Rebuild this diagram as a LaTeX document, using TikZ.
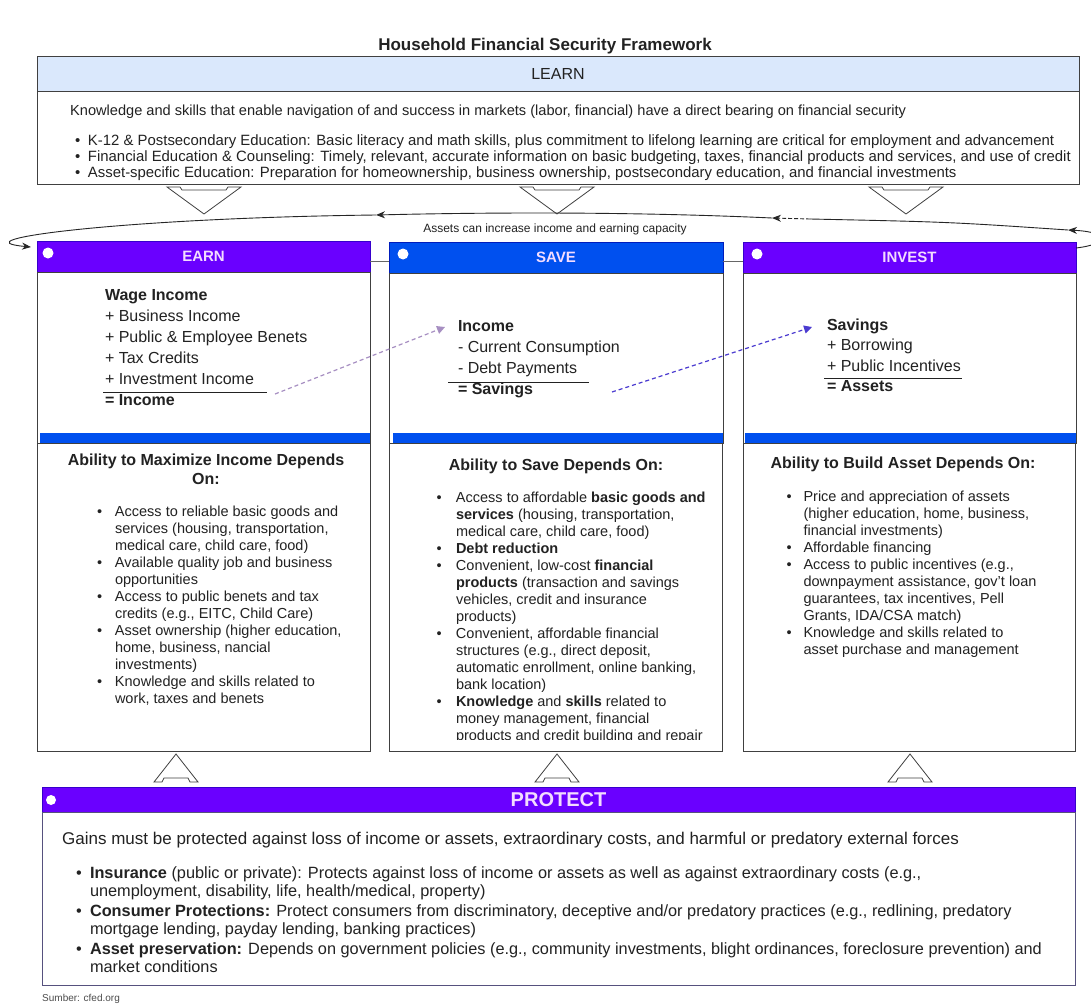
\documentclass[tikz,border=0pt]{standalone}
\usepackage{fontspec}
\setmainfont{Liberation Sans}
\usetikzlibrary{arrows.meta}
\definecolor{purp}{HTML}{6A00FF}
\definecolor{purpd}{HTML}{3700CC}
\definecolor{sblue}{HTML}{0050EF}
\definecolor{sblued}{HTML}{001DBC}
\definecolor{hdrtxt}{HTML}{F3DCFF}
\definecolor{learnfill}{HTML}{DAE8FC}
\definecolor{txt}{HTML}{222222}
\definecolor{dashA}{HTML}{A78FC2}
\definecolor{dashB}{HTML}{4B3BD0}
\definecolor{protb}{HTML}{56517E}
\newcommand{\fs}[2]{\fontsize{#1}{#2}\selectfont}
\newcommand{\bu}[1]{\makebox[#1][l]{\textbullet}}
\newcommand{\darr}[1]{\draw[blockarr] (#1-37,187) -- (#1-24,187) -- (#1-22,190) -- (#1+22,190) -- (#1+24,187) -- (#1+37,187) -- (#1,214) -- cycle;}
\newcommand{\uarr}[1]{\draw[blockarr] (#1,754) -- (#1+22,782) -- (#1+14,782) -- (#1+12,778) -- (#1-12,778) -- (#1-14,782) -- (#1-22,782) -- cycle;}
\begin{document}
\begin{tikzpicture}[x=1pt,y=-1pt,
  box/.style={draw=black!75, line width=0.8pt, fill=white, inner sep=0pt, outer sep=0pt, anchor=north west},
  hdr/.style={draw=#1, line width=0.8pt, inner sep=0pt, outer sep=0pt, anchor=north west, text=hdrtxt, font=\fs{15}{18}\bfseries},
  bar/.style={fill=sblue, draw=none, inner sep=0pt, outer sep=0pt, anchor=north west, minimum height=10pt},
  dot/.style={circle, fill=white, draw=none, minimum size=11pt, inner sep=0pt},
  listnode/.style={anchor=north west, inner sep=0pt, outer sep=0pt, text=txt},
  blockarr/.style={draw=black!75, fill=white, line width=0.8pt, line join=miter},
  loopline/.style={draw=black!85, line width=0.9pt, -{Stealth[length=9pt,width=7pt]}},
  thinline/.style={draw=black!60, line width=0.8pt},
  rule/.style={draw=txt, line width=0.9pt}
]
\useasboundingbox (0,0) rectangle (1091,1006);
\fill[white] (0,0) rectangle (1091,1006);

% title
\node[text=txt, font=\fs{17}{19}\bfseries] (title) at (545,46) {Household Financial Security Framework};

% LEARN
\node[box, fill=learnfill, minimum width=1042pt, minimum height=35pt, font=\fs{16}{19}, text=txt] (learnH) at (37,56) {LEARN};
\node[box, minimum width=1042pt, minimum height=93pt] (learnB) at (37,91) {};
\node[anchor=base west, inner sep=0pt, text=txt, font=\fs{14.6}{16}] (learnI) at (70,116) {Knowledge and skills that enable navigation of and success in markets (labor, financial) have a direct bearing on financial security};
\node[listnode] (learnL) at (75,134.7) {\fs{14.9}{16}\begin{tabular}{@{}l@{}l@{}}
\bu{13pt} & K-12 \& Postsecondary Education: Basic literacy and math skills, plus commitment to lifelong learning are critical for employment and advancement\\
\bu{13pt} & Financial Education \& Counseling: Timely, relevant, accurate information on basic budgeting, taxes, financial products and services, and use of credit\\
\bu{13pt} & Asset-specific Education: Preparation for homeownership, business ownership, postsecondary education, and financial investments
\end{tabular}};

% down block arrows
\darr{204}
\darr{557}
\darr{906}

% EARN column
\node[hdr=purpd, fill=purp, minimum width=333pt, minimum height=31pt] (earnH) at (37,241) {EARN};
\node[dot] (earnD) at (48,253) {};
\node[box, minimum width=333pt, minimum height=171pt] (earnT) at (37,272) {};
\node[bar, minimum width=330pt] (earnBar) at (40,433) {};
\node[box, minimum width=333pt, minimum height=308pt] (earnL) at (37,443) {};

% SAVE column
\node[hdr=sblued, fill=sblue, minimum width=334pt, minimum height=31pt] (saveH) at (389,242) {SAVE};
\node[dot] (saveD) at (403,254) {};
\node[box, minimum width=334pt, minimum height=170pt] (saveT) at (389,273) {};
\node[bar, minimum width=330pt] (saveBar) at (393,433) {};
\node[box, minimum width=333pt, minimum height=308pt] (saveL) at (389,443) {};

% INVEST column
\node[hdr=purpd, fill=purp, minimum width=333pt, minimum height=31pt] (invH) at (743,242) {INVEST};
\node[dot] (invD) at (757,254) {};
\node[box, minimum width=333pt, minimum height=170pt] (invT) at (743,273) {};
\node[bar, minimum width=331pt] (invBar) at (745,433) {};
\node[box, minimum width=332pt, minimum height=308pt] (invL) at (743,443) {};

% connectors between headers
\draw[thinline] ([yshift=-4.5pt]earnH.east) -- ([yshift=-3.5pt]saveH.west);
\draw[thinline] ([yshift=-3.5pt]saveH.east) -- ([yshift=-3.5pt]invH.west);

% loop arrow
\coordinate (cA) at (1076,248);
\coordinate (cB) at (1068,230);
\coordinate (cM) at (810,219);
\coordinate (cC) at (772,218);
\coordinate (cD) at (376,215);
\coordinate (cE) at (31,247);
\draw[loopline] (cA) .. controls (1110,244) and (1110,232) .. (cB);
\draw[loopline, -] (cB) .. controls (950,222) .. (cM);
\draw[loopline, dash pattern=on 4pt off 2pt] (cM) -- (cC);
\draw[loopline] (cC) .. controls (640,212) and (500,212) .. (cD);
\draw[loopline] (cD) .. controls (120,218) and (-45,240) .. (cE);
\node[text=txt, font=\fs{12}{14}] (assetsLbl) at (555,229) {Assets can increase income and earning capacity};

% formulas
\node[listnode] (earnF) at (105,285.5) {\fs{16}{21}\begin{tabular}{@{}l@{}}
\textbf{Wage Income}\\ + Business Income\\ + Public \& Employee Benets\\ + Tax Credits\\ + Investment Income\\ \textbf{= Income}
\end{tabular}};
\draw[rule] (103,392.5) -- (267,392.5);
\node[listnode] (saveF) at (458,316.9) {\fs{16}{21}\begin{tabular}{@{}l@{}}
\textbf{Income}\\ - Current Consumption\\ - Debt Payments\\ \textbf{= Savings}
\end{tabular}};
\draw[rule] (448,382) -- (589,382);
\node[listnode] (invF) at (827,315.9) {\fs{16}{20.5}\begin{tabular}{@{}l@{}}
\textbf{Savings}\\ + Borrowing\\ + Public Incentives\\ \textbf{= Assets}
\end{tabular}};
\draw[rule] (824,378) -- (962,378);

% dashed flow arrows
\coordinate (fa1) at (275,394);
\coordinate (fa2) at (445,327);
\coordinate (fb1) at (612,392);
\coordinate (fb2) at (812,327);
\draw[dashA, line width=1.2pt, dash pattern=on 4pt off 3pt, -{Triangle[length=8pt,width=8pt]}] (fa1) -- (fa2);
\draw[dashB, line width=1.2pt, dash pattern=on 4pt off 3pt, -{Triangle[length=8pt,width=8pt]}] (fb1) -- (fb2);

% lower headings
\node[listnode, anchor=north] (earnHd) at (206,452.3) {\fs{16}{19}\bfseries\begin{tabular}{@{}c@{}}Ability to Maximize Income Depends\\ On:\end{tabular}};
\node[listnode, anchor=north] (saveHd) at (556,457.3) {\fs{16}{19}\bfseries\begin{tabular}{@{}c@{}}Ability to Save Depends On:\end{tabular}};
\node[listnode, anchor=north] (invHd) at (903,455.3) {\fs{16}{19}\bfseries\begin{tabular}{@{}c@{}}Ability to Build Asset Depends On:\end{tabular}};

% lower lists
\node[listnode] (earnLst) at (97,504.2) {\fs{14.5}{17}\begin{tabular}{@{}l@{}l@{}}
\bu{18pt} & Access to reliable basic goods and\\
 & services (housing, transportation,\\
 & medical care, child care, food)\\
\bu{18pt} & Available quality job and business\\
 & opportunities\\
\bu{18pt} & Access to public benets and tax\\
 & credits (e.g., EITC, Child Care)\\
\bu{18pt} & Asset ownership (higher education,\\
 & home, business, nancial\\
 & investments)\\
\bu{18pt} & Knowledge and skills related to\\
 & work, taxes and benets
\end{tabular}};

\begin{scope}
\clip (389,443) rectangle (722,739);
\node[listnode] (saveLst) at (436.5,490.2) {\fs{14.5}{17}\begin{tabular}{@{}l@{}l@{}}
\bu{19.5pt} & Access to affordable \textbf{basic goods and}\\
 & \textbf{services} (housing, transportation,\\
 & medical care, child care, food)\\
\bu{19.5pt} & \textbf{Debt reduction}\\
\bu{19.5pt} & Convenient, low-cost \textbf{financial}\\
 & \textbf{products} (transaction and savings\\
 & vehicles, credit and insurance\\
 & products)\\
\bu{19.5pt} & Convenient, affordable financial\\
 & structures (e.g., direct deposit,\\
 & automatic enrollment, online banking,\\
 & bank location)\\
\bu{19.5pt} & \textbf{Knowledge} and \textbf{skills} related to\\
 & money management, financial\\
 & products and credit building and repair
\end{tabular}};
\end{scope}

\node[listnode] (invLst) at (786.5,489.2) {\fs{14.5}{17}\begin{tabular}{@{}l@{}l@{}}
\bu{17pt} & Price and appreciation of assets\\
 & (higher education, home, business,\\
 & financial investments)\\
\bu{17pt} & Affordable financing\\
\bu{17pt} & Access to public incentives (e.g.,\\
 & downpayment assistance, gov't loan\\
 & guarantees, tax incentives, Pell\\
 & Grants, IDA/CSA match)\\
\bu{17pt} & Knowledge and skills related to\\
 & asset purchase and management
\end{tabular}};

% up block arrows
\uarr{176}
\uarr{557}
\uarr{910}

% PROTECT
\node[hdr=purpd, fill=purp, minimum width=1033pt, minimum height=25pt, font=\fs{20}{22}\bfseries] (protH) at (42,787) {PROTECT};
\node[dot, minimum size=10pt] (protD) at (51,800) {};
\node[box, draw=protb, minimum width=1033pt, minimum height=173pt] (protB) at (42,812) {};
\node[anchor=base west, inner sep=0pt, text=txt, font=\fs{17}{18}] (protI) at (62,844) {Gains must be protected against loss of income or assets, extraordinary costs, and harmful or predatory external forces};
\node[listnode] (protL) at (76,866) {\fs{16.3}{18}\begin{tabular}{@{}l@{}l@{}}
\bu{14pt} & \textbf{Insurance} (public or private): Protects against loss of income or assets as well as against extraordinary costs (e.g.,\\
 & unemployment, disability, life, health/medical, property)\\[2pt]
\bu{14pt} & \textbf{Consumer Protections:} Protect consumers from discriminatory, deceptive and/or predatory practices (e.g., redlining, predatory\\
 & mortgage lending, payday lending, banking practices)\\[2pt]
\bu{14pt} & \textbf{Asset preservation:} Depends on government policies (e.g., community investments, blight ordinances, foreclosure prevention) and\\
 & market conditions
\end{tabular}};

\node[anchor=base west, inner sep=0pt, text=black!70, font=\fs{10}{12}] (src) at (42,1001) {Sumber: cfed.org};
\end{tikzpicture}
\end{document}
